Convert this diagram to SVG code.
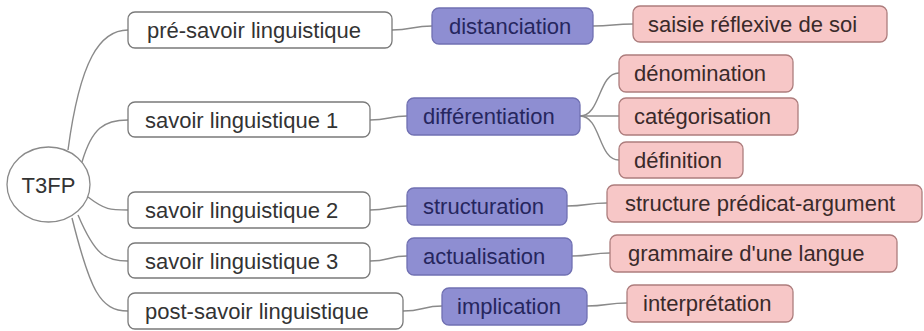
<svg xmlns="http://www.w3.org/2000/svg" width="924" height="331" viewBox="0 0 924 331">
<style>
  text { font-family: "Liberation Sans", Arial, sans-serif; font-size: 22px; }
  .l1 rect { fill: #ffffff; stroke: #7a7a7a; stroke-width: 1.3; }
  .l1 text { fill: #333333; }
  .l2 rect { fill: #8e8ed2; stroke: #7070b2; stroke-width: 1.3; }
  .l2 text { fill: #26265e; }
  .l3 rect { fill: #f7c7c7; stroke: #ad7d7d; stroke-width: 1.3; }
  .l3 text { fill: #3a2a2a; }
  #connectors path { fill: none; stroke: #8a8a8a; stroke-width: 1.4; }
</style>
<rect width="924" height="331" fill="#ffffff"/>
<g id="connectors">
  <path d="M68,150 C80,60 100,30 128,30"/>
  <path d="M82,162 C92,128 104,120 128,120"/>
  <path d="M88,197 C105,210 110,210 128,210"/>
  <path d="M78,215 C95,255 105,261 128,261"/>
  <path d="M72,218 C90,290 100,311 128,311"/>
  <path d="M392,30 C412,30 412,26 432,26"/>
  <path d="M370,120 C389,120 389,116 407,116"/>
  <path d="M370,210 C389,210 389,206 407,206"/>
  <path d="M370,261 C389,261 389,256 407,256"/>
  <path d="M403,311 C423,311 423,306 442,306"/>
  <path d="M593,26 C613,26 613,24 633,24"/>
  <path d="M580,116 C601,116 598,73 619,73"/>
  <path d="M580,116 L619,116"/>
  <path d="M580,116 C601,116 598,160 619,160"/>
  <path d="M567,206 C587,206 587,203 607,203"/>
  <path d="M572,256 C591,256 591,253 610,253"/>
  <path d="M587,306 C607,306 607,303 627,303"/>
</g>
<g id="root">
  <ellipse cx="48.5" cy="184.5" rx="41.5" ry="37.5" fill="#ffffff" stroke="#8a8a8a" stroke-width="1.3"/>
  <text x="48.5" y="193" text-anchor="middle" fill="#333333">T3FP</text>
</g>
<g id="n-pre" class="l1"><rect x="128" y="12" width="264" height="36" rx="7"/><text x="147" y="38">pré-savoir linguistique</text></g>
<g id="n-s1" class="l1"><rect x="128" y="102" width="242" height="35" rx="7"/><text x="145" y="128">savoir linguistique 1</text></g>
<g id="n-s2" class="l1"><rect x="128" y="192" width="242" height="36" rx="7"/><text x="145" y="218">savoir linguistique 2</text></g>
<g id="n-s3" class="l1"><rect x="128" y="243" width="242" height="35" rx="7"/><text x="145" y="269">savoir linguistique 3</text></g>
<g id="n-post" class="l1"><rect x="128" y="293" width="275" height="36" rx="7"/><text x="145" y="319">post-savoir linguistique</text></g>
<g id="n-dist" class="l2"><rect x="432" y="8" width="161" height="36" rx="7"/><text x="449" y="34">distanciation</text></g>
<g id="n-diff" class="l2"><rect x="407" y="98" width="173" height="37" rx="7"/><text x="423" y="124">différentiation</text></g>
<g id="n-struct" class="l2"><rect x="407" y="188" width="160" height="37" rx="7"/><text x="423" y="214">structuration</text></g>
<g id="n-actu" class="l2"><rect x="407" y="238" width="165" height="37" rx="7"/><text x="423" y="264">actualisation</text></g>
<g id="n-impl" class="l2"><rect x="442" y="288" width="145" height="37" rx="7"/><text x="457" y="314">implication</text></g>
<g id="n-saisie" class="l3"><rect x="633" y="6" width="254" height="36" rx="7"/><text x="648" y="32">saisie réflexive de soi</text></g>
<g id="n-denom" class="l3"><rect x="619" y="55" width="174" height="37" rx="7"/><text x="634" y="81">dénomination</text></g>
<g id="n-categ" class="l3"><rect x="619" y="98" width="179" height="37" rx="7"/><text x="634" y="124">catégorisation</text></g>
<g id="n-defin" class="l3"><rect x="619" y="142" width="124" height="36" rx="7"/><text x="634" y="168">définition</text></g>
<g id="n-pred" class="l3"><rect x="607" y="185" width="315" height="37" rx="7"/><text x="625" y="211">structure prédicat-argument</text></g>
<g id="n-gram" class="l3"><rect x="610" y="235" width="287" height="37" rx="7"/><text x="628" y="261">grammaire d'une langue</text></g>
<g id="n-interp" class="l3"><rect x="627" y="285" width="166" height="37" rx="7"/><text x="643" y="311">interprétation</text></g>
</svg>
